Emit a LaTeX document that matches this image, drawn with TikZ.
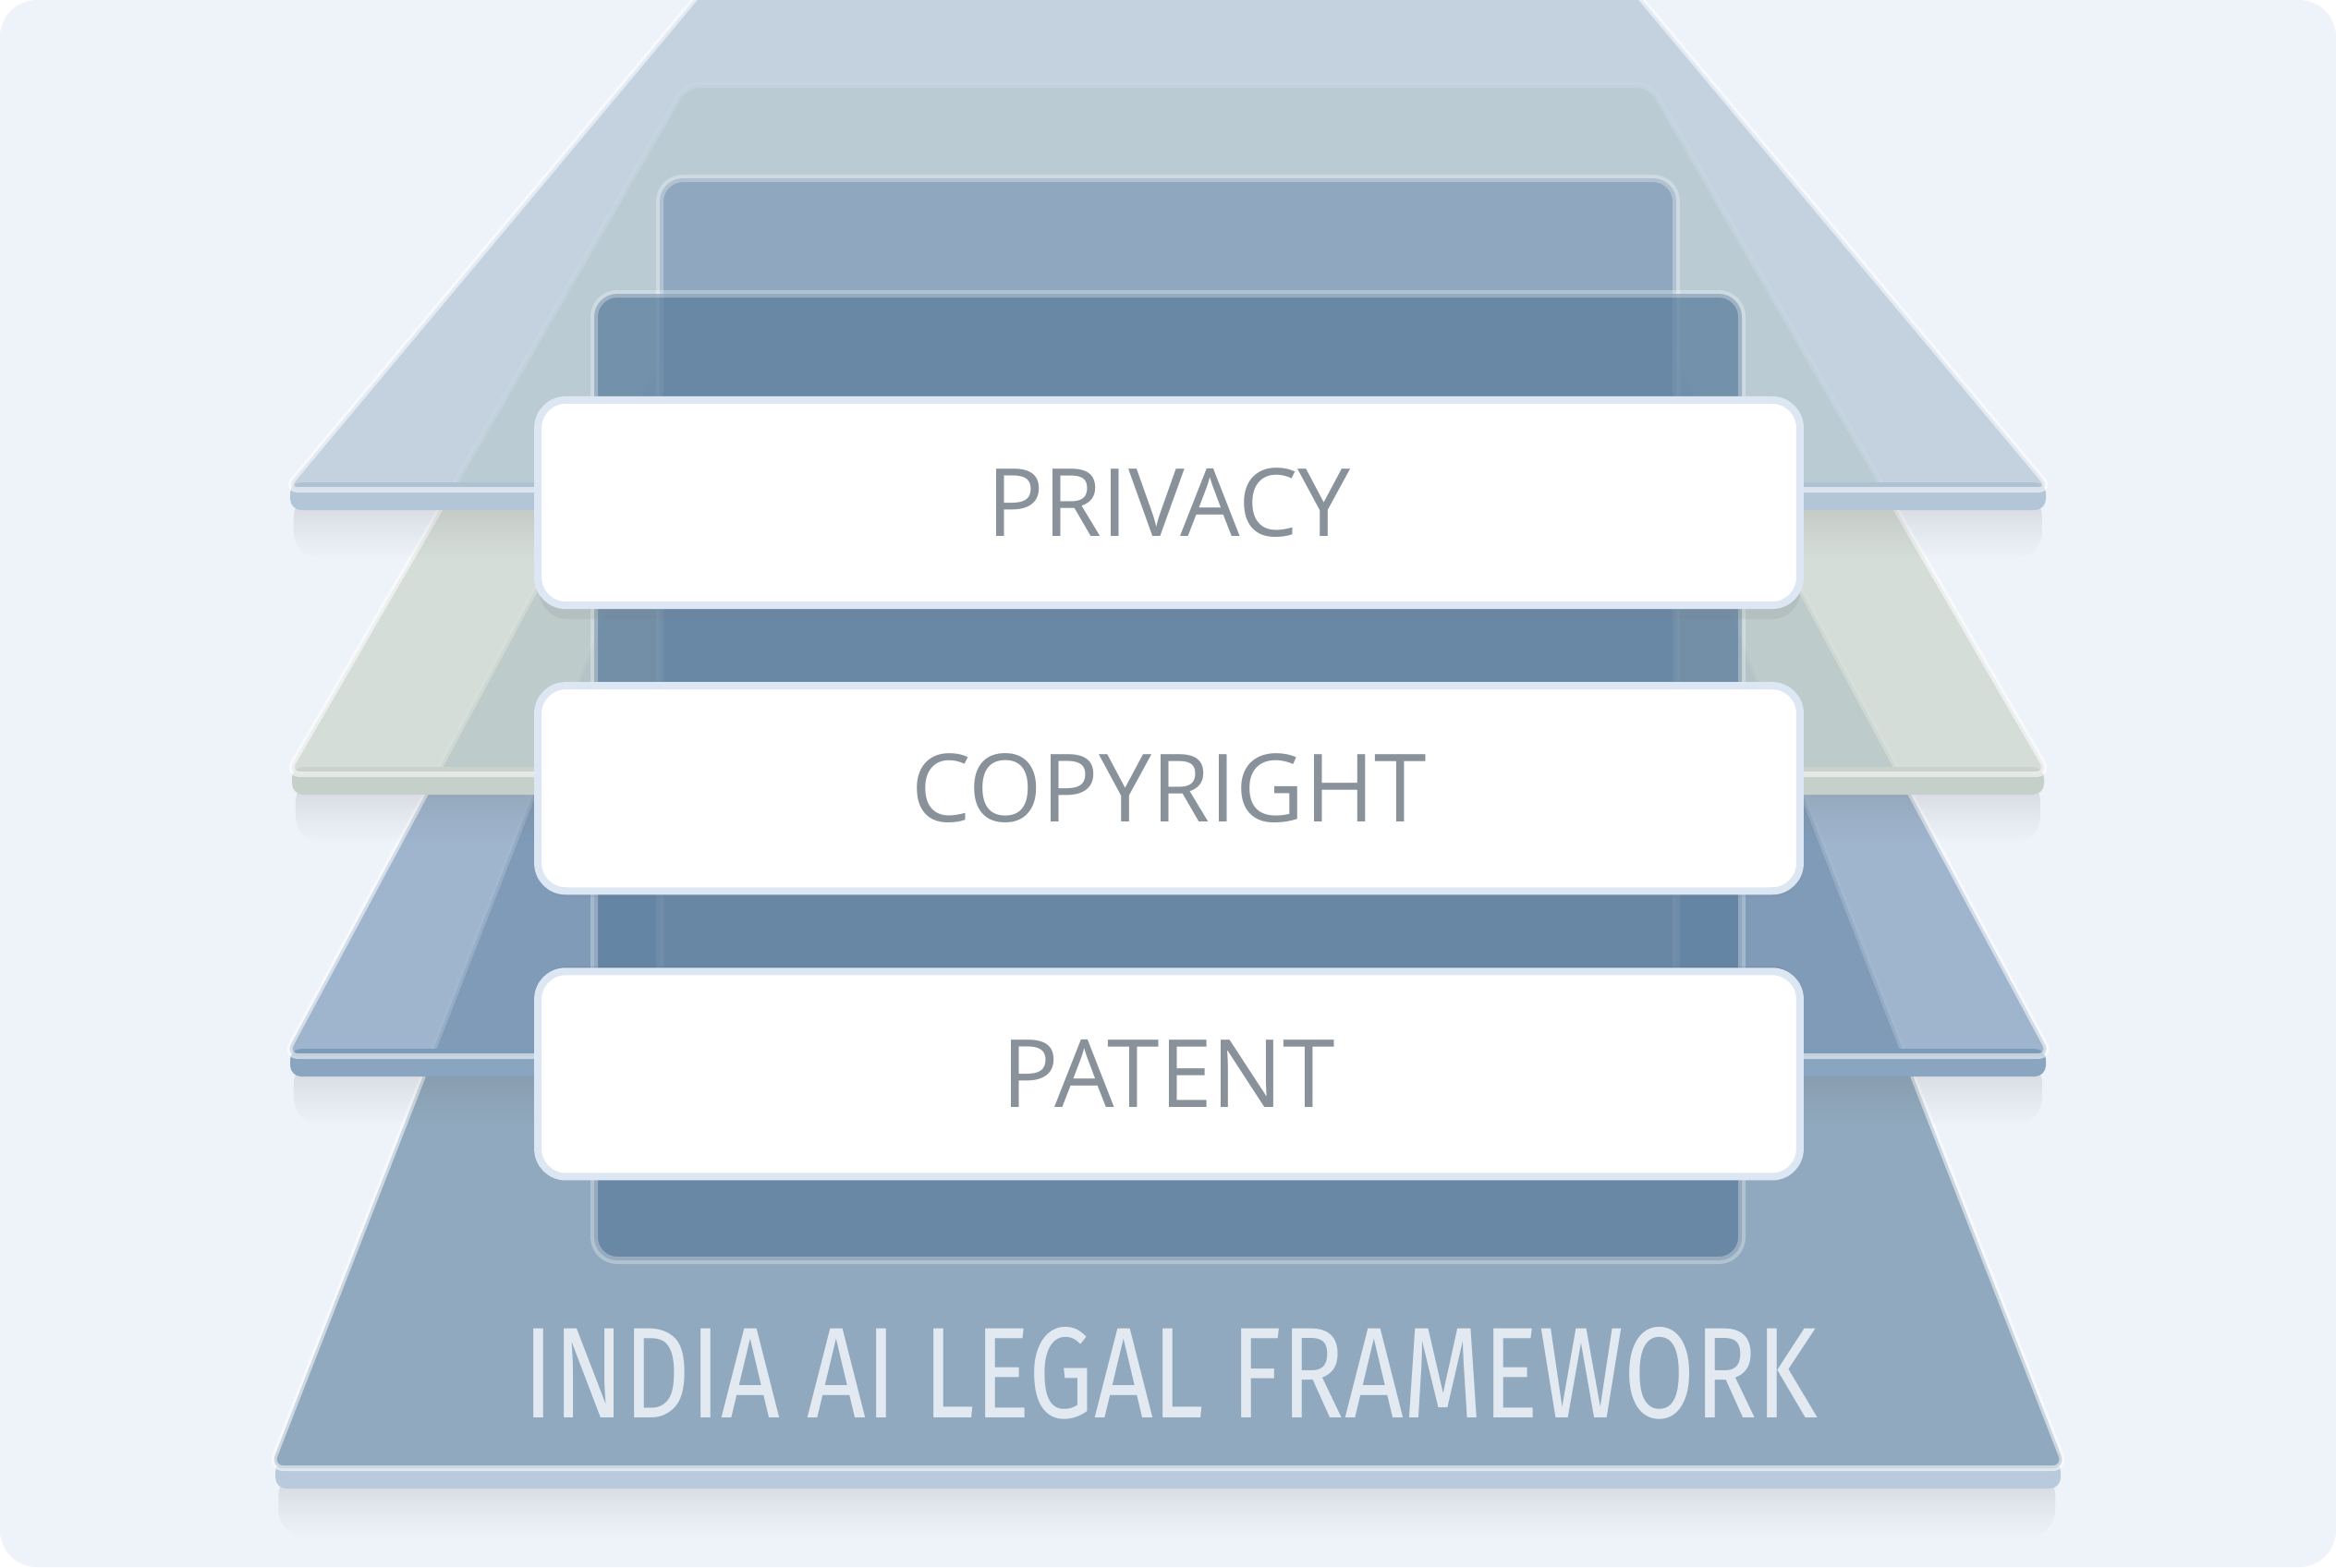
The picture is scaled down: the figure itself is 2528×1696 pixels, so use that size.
\documentclass[tikz,border=0pt]{standalone}
\usepackage{fontspec}
\setmainfont{Open Sans}
\newfontfamily\firafont{Fira Sans}
\usepackage{graphicx}
\usepackage{tikz}
\usetikzlibrary{positioning,fadings}
\definecolor{pagebg}{HTML}{EEF2F9}
\definecolor{topface}{HTML}{ADC1D3}
\definecolor{topslab}{HTML}{B3C6D8}
\definecolor{sageface}{HTML}{CBD5CB}
\definecolor{sageslab}{HTML}{C5D0CB}
\definecolor{midface}{HTML}{7695B6}
\definecolor{midslab}{HTML}{8AA5C0}
\definecolor{baseface}{HTML}{90A9BE}
\definecolor{baseslab}{HTML}{B8CADB}
\definecolor{backpanel}{HTML}{8CA6BE}
\definecolor{frontpanel}{HTML}{5C7E9E}
\definecolor{cardrim}{HTML}{DDE7F3}
\definecolor{cardtext}{HTML}{89929B}
\definecolor{basetext}{HTML}{E2E9F1}
\definecolor{shade}{HTML}{3C5570}
\tikzset{
  % one slanted layer of the stack
  face/.style={rounded corners=0.15cm, draw=white, draw opacity=0.55, line width=0.06cm},
  % thickness under a layer
  slab/.style={rounded corners=0.12cm},
  % soft shadow under a layer
  haze/.style={shade, opacity=0.09, rounded corners=0.3cm, path fading=south},
  % upright panels behind the cards
  panel/.style={rounded corners=0.25cm, draw=white, draw opacity=0.3, line width=0.08cm},
  % white cards
  card/.style={
    draw=cardrim,
    line width=0.08cm,
    fill=white,
    rounded corners=0.3cm,
    minimum width=13.65cm,
    minimum height=2.22cm,
    font=\fontsize{29}{32}\selectfont,
    text=cardtext
  },
  basetxt/.style={text=basetext, inner sep=0pt},
}
% #1 top y, #2 top half width, #3 bottom y, #4 bottom half width,
% #5 face colour, #6 slab colour, #7 face opacity
\newcommand{\layer}[7]{%
  \fill[haze] (1264-#4+10,#3) rectangle (1264+#4-10,#3+75);
  \fill[slab, #6] (1264-#4+6,#3-8) -- (1264+#4-6,#3-8) -- (1264+#4-6,#3+22) -- (1264-#4+6,#3+22) -- cycle;
  \filldraw[face, fill=#5, fill opacity=#7]
    (1264-#2,#1) -- (1264+#2,#1) -- (1264+#4,#3) -- (1264-#4,#3) -- cycle;
}

\begin{document}
\begin{tikzpicture}[x=0.01cm, y=-0.01cm]
  \useasboundingbox (0,0) rectangle (2528,1696);
  \fill[white] (0,0) rectangle (2528,1696);
  \fill[pagebg, rounded corners=0.4cm] (0,0) rectangle (2528,1696);
  \clip (0,0) rectangle (2528,1696);

  % stacked layers, back to front
  \layer{330}{480}{1589}{972}{baseface}{baseslab}{1}
  \layer{330}{519}{1143}{956}{midface}{midslab}{0.65}
  \layer{92}{522}{838}{954}{sageface}{sageslab}{0.7}
  \layer{-30}{488}{530}{956}{topface}{topslab}{0.64}

  % panels
  \filldraw[panel, fill=backpanel, fill opacity=0.92] (714,193) rectangle (1814,1200);
  \filldraw[panel, fill=frontpanel, fill opacity=0.75] (643,318) rectangle (1885,1364);

  % card shadows, then cards
  \foreach \cy in {544,845,1146}
    \fill[shade, opacity=0.07, rounded corners=0.3cm] (584,\cy-100) rectangle (1948,\cy+126);
  \node[card] (privacy) at (1265,544) {PRIVACY};
  \node[card, below=0.79cm of privacy] (copyright) {COPYRIGHT};
  \node[card, below=0.79cm of copyright] (patent) {PATENT};

  % base label
  \node[basetxt] (framework) at (1267,1486)
    {\resizebox{14cm}{0.98cm}{\firafont INDIA AI LEGAL FRAMEWORK}};
\end{tikzpicture}
\end{document}
